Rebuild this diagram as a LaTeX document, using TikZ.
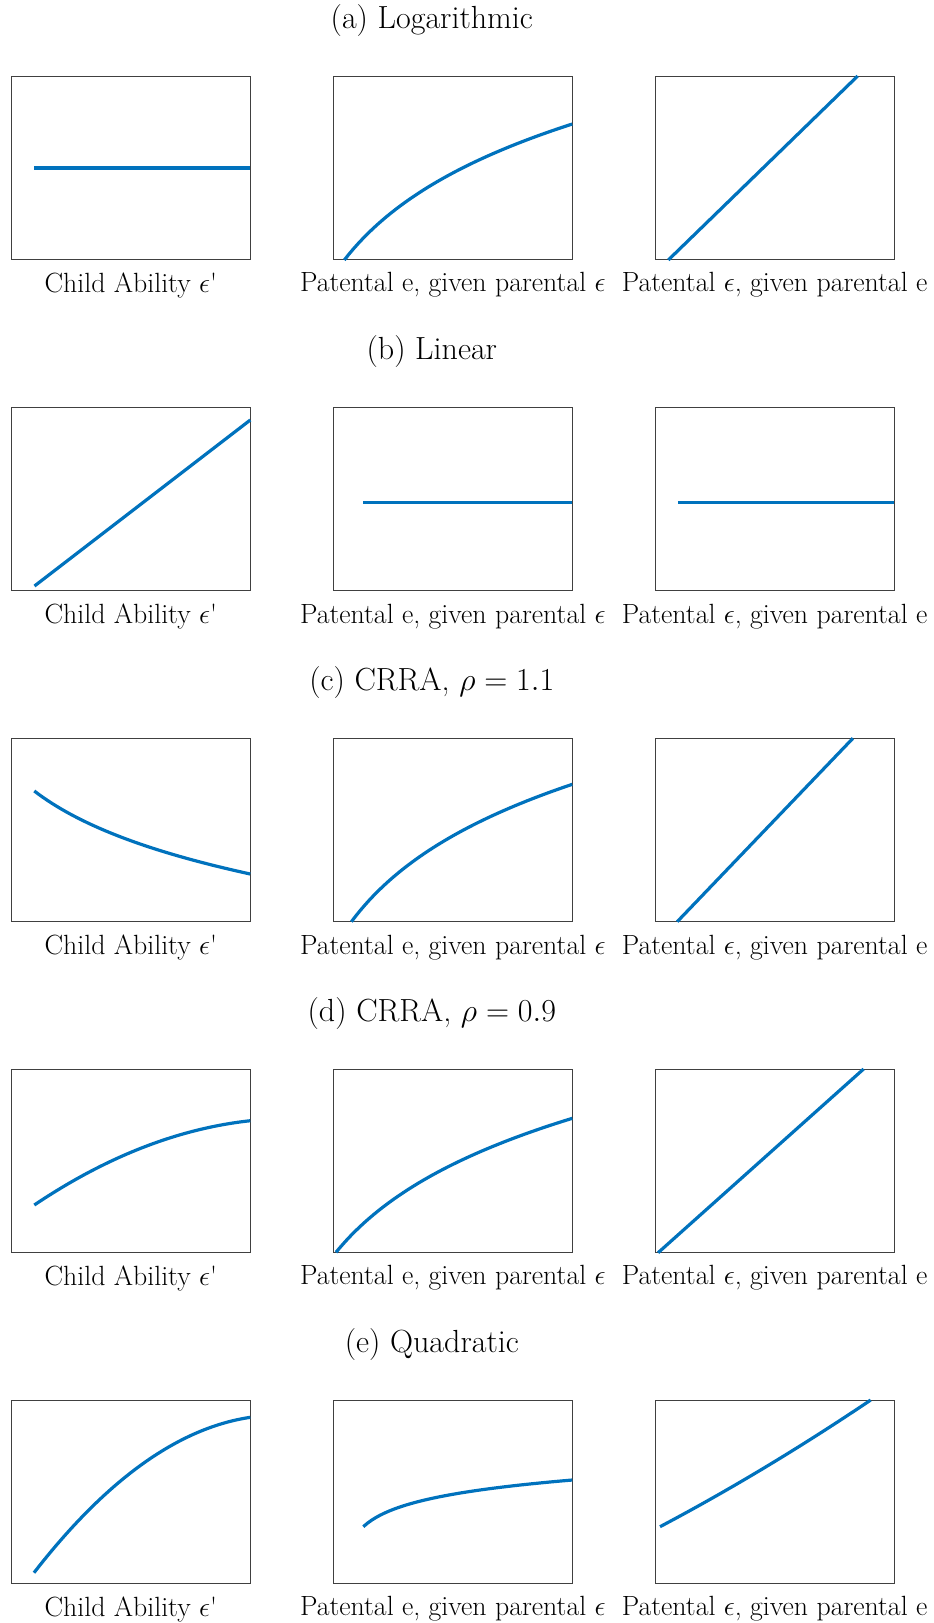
\RequirePackage{fix-cm}
\documentclass[tikz,border=0pt]{standalone}
\usepackage{fontspec}
\usetikzlibrary{positioning}
\definecolor{plotblue}{rgb}{0, 0.447, 0.741}
\definecolor{axisgrey}{rgb}{0.25, 0.25, 0.25}

\begin{document}
\begin{tikzpicture}[x=1pt, y=-1pt,
        panel/.style={draw=axisgrey, line width=0.9pt, minimum width=239pt, minimum height=183.5pt, inner sep=0pt},
        curve/.style={plotblue, line width=3.2pt},
        axlab/.style={below=12.4pt of #1, inner sep=0pt, font=\fontsize{27.8}{32}\selectfont},
        rowtitle/.style={anchor=base, inner sep=0pt, font=\fontsize{32}{38}\selectfont}]
        \useasboundingbox (0,0) rectangle (934,1623);

        % (a) Logarithmic
        \node [panel] (A1) at (130.9, 167.75) {};
        \node [panel] (A2) at (452.8, 167.75) {};
        \node [panel] (A3) at (774.6, 167.75) {};
        \node [rowtitle] (TA) at ([yshift=47pt, xshift=-21pt]A2.north) {(a) Logarithmic};
        \node [axlab=A1] (LA1) {Child Ability $\epsilon$\textquotesingle};
        \node [axlab=A2] (LA2) {Patental e, given parental $\epsilon$};
        \node [axlab=A3] (LA3) {Patental $\epsilon$, given parental e};

        \draw [curve] (34,168) -- (250.3,168);
        \draw [curve] plot [domain=0:1, samples=50] ({344.3+228*\x}, {260-136*ln(1+3*\x)/ln(4)});
        \draw [curve] (668.3,260) -- (857.7,76);

        % (b) Linear
        \node [panel] (B1) at (130.9, 499.05) {};
        \node [panel] (B2) at (452.8, 499.05) {};
        \node [panel] (B3) at (774.6, 499.05) {};
        \node [rowtitle] (TB) at ([yshift=47pt, xshift=-21pt]B2.north) {(b) Linear};
        \node [axlab=B1] (LB1) {Child Ability $\epsilon$\textquotesingle};
        \node [axlab=B2] (LB2) {Patental e, given parental $\epsilon$};
        \node [axlab=B3] (LB3) {Patental $\epsilon$, given parental e};

        \draw [curve] (34.5,586) -- (250.3,420);
        \draw [curve] (363.3,502.3) -- (572.3,502.3);
        \draw [curve] (677.8,502.3) -- (894.2,502.3);

        % (c) CRRA, rho = 1.1
        \node [panel] (C1) at (130.9, 830.05) {};
        \node [panel] (C2) at (452.8, 830.05) {};
        \node [panel] (C3) at (774.6, 830.05) {};
        \node [rowtitle] (TC) at ([yshift=47pt, xshift=-21pt]C2.north) {(c) CRRA, $\rho = 1.1$};
        \node [axlab=C1] (LC1) {Child Ability $\epsilon$\textquotesingle};
        \node [axlab=C2] (LC2) {Patental e, given parental $\epsilon$};
        \node [axlab=C3] (LC3) {Patental $\epsilon$, given parental e};

        \draw [curve] plot [domain=0:1, samples=50] ({34.3+216*\x}, {791+83*ln(1+2.5*\x)/ln(3.5)});
        \draw [curve] plot [domain=0:1, samples=50] ({351.4+220.9*\x}, {921.7-137.4*ln(1+3*\x)/ln(4)});
        \draw [curve] (677.2,921.7) -- (852.9,738.3);

        % (d) CRRA, rho = 0.9
        \node [panel] (D1) at (130.9, 1160.75) {};
        \node [panel] (D2) at (452.8, 1160.75) {};
        \node [panel] (D3) at (774.6, 1160.75) {};
        \node [rowtitle] (TD) at ([yshift=47pt, xshift=-21pt]D2.north) {(d) CRRA, $\rho = 0.9$};
        \node [axlab=D1] (LD1) {Child Ability $\epsilon$\textquotesingle};
        \node [axlab=D2] (LD2) {Patental e, given parental $\epsilon$};
        \node [axlab=D3] (LD3) {Patental $\epsilon$, given parental e};

        \draw [curve] plot [domain=0:1, samples=50] ({34.3+216*\x}, {1205-84.3*(1.72*\x-0.72*\x*\x)});
        \draw [curve] plot [domain=0:1, samples=50] ({336+236.3*\x}, {1252.3-134*ln(1+3*\x)/ln(4)});
        \draw [curve] (658.1,1252.7) -- (863.6,1069);

        % (e) Quadratic
        \node [panel] (E1) at (130.9, 1491.75) {};
        \node [panel] (E2) at (452.8, 1491.75) {};
        \node [panel] (E3) at (774.6, 1491.75) {};
        \node [rowtitle] (TE) at ([yshift=47pt, xshift=-21pt]E2.north) {(e) Quadratic};
        \node [axlab=E1] (LE1) {Child Ability $\epsilon$\textquotesingle};
        \node [axlab=E2] (LE2) {Patental e, given parental $\epsilon$};
        \node [axlab=E3] (LE3) {Patental $\epsilon$, given parental e};

        \draw [curve] plot [domain=0:1, samples=50] ({34+216.3*\x}, {1572.7-155.4*(1.793*\x-0.793*\x*\x)});
        \draw [curve] plot [domain=0:1, samples=50] ({363.3+209*\x}, {1526.7-46.7*ln(1+10*\x)/ln(11)});
        \draw [curve] plot [domain=0:1, samples=50] ({660+210.7*\x}, {1526.7-126.7*(0.88*\x+0.12*\x*\x)});
    \end{tikzpicture}
\end{document}
